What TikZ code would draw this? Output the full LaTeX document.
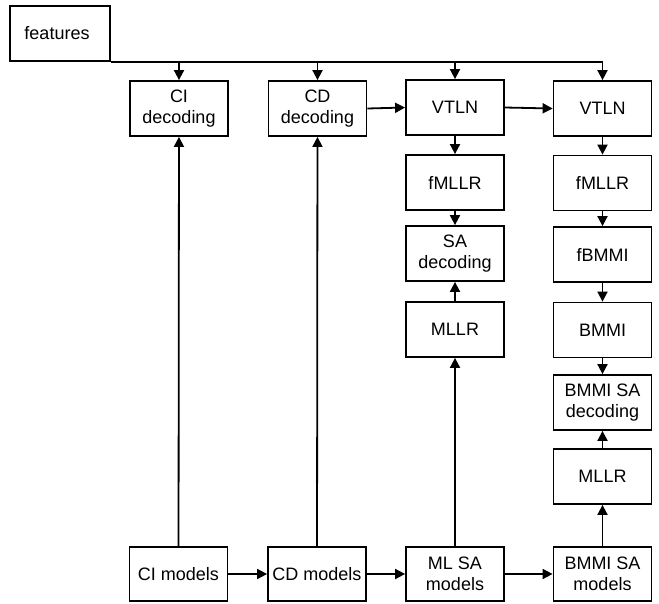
\documentclass[tikz,border=0pt]{standalone}
\usepackage{fontspec}
\setmainfont{Liberation Sans}
\usetikzlibrary{arrows.meta}
\begin{document}
\begin{tikzpicture}[x=1pt,y=-1pt,
  box/.style={draw,line width=1.8pt,minimum width=98pt,minimum height=55pt,inner sep=0pt,align=center,font=\fontsize{18}{21.5}\selectfont},
  conn/.style={line width=1.8pt},
  arr/.style={line width=1.8pt,-{Triangle[length=10pt,width=10pt]}}]
\useasboundingbox (0,0) rectangle (659,603);
\node[box,minimum width=100pt] (feat) at (60,33.5) {features\hspace{6pt}};
\node[box] (cidec) at (179,108.5) {CI\\decoding};
\node[box] (cddec) at (317.5,108.5) {CD\\decoding};
\node[box] (vtlna) at (455,107.5) {VTLN};
\node[box] (vtlnb) at (602.5,108.5) {VTLN};
\node[box] (fmllra) at (455,182.5) {fMLLR};
\node[box] (sadec) at (455,253.5) {SA\\decoding};
\node[box] (mllra) at (455,329.5) {MLLR};
\node[box] (fmllrb) at (602.5,183) {fMLLR};
\node[box] (fbmmi) at (602.5,254.5) {fBMMI};
\node[box] (bmmi) at (602.5,330) {BMMI};
\node[box] (bsadec) at (602.5,402.5) {BMMI SA\\decoding};
\node[box] (mllrb) at (602.5,476.5) {MLLR};
\node[box,minimum height=54pt] (cimod) at (178.5,574) {CI models};
\node[box,minimum height=54pt] (cdmod) at (317,574) {CD models};
\node[box,minimum height=54pt] (mlsa) at (455,574) {ML SA\\models};
\node[box,minimum height=54pt] (bmmisa) at (602.5,574) {BMMI SA\\models};
% feature bus
\coordinate (busend) at (feat.south east -| vtlnb.north);
\draw[conn] (feat.south east) -- (busend);
\draw[arr] (feat.south east -| cidec.north) -- (cidec.north);
\draw[arr] (feat.south east -| cddec.north) -- (cddec.north);
\draw[arr] (feat.south east -| vtlna.north) -- (vtlna.north);
\draw[arr] (busend) -- (vtlnb.north);
% horizontal top
\draw[arr] (cddec.east) -- (vtlna.west);
\draw[arr] (vtlna.east) -- (vtlnb.west);
% column 3
\draw[arr] (vtlna) -- (fmllra);
\draw[arr] (fmllra) -- (sadec);
\draw[arr] (mllra) -- (sadec);
\draw[arr] (mlsa) -- (mllra);
% column 4
\draw[arr] (vtlnb) -- (fmllrb);
\draw[arr] (fmllrb) -- (fbmmi);
\draw[arr] (fbmmi) -- (bmmi);
\draw[arr] (bmmi) -- (bsadec);
\draw[arr] (mllrb) -- (bsadec);
\draw[arr] (bmmisa) -- (mllrb);
% columns 1,2
\draw[arr] (cimod) -- (cidec);
\draw[arr] (cdmod) -- (cddec);
% bottom row
\draw[arr] (cimod) -- (cdmod);
\draw[arr] (cdmod) -- (mlsa);
\draw[arr] (mlsa) -- (bmmisa);
\end{tikzpicture}
\end{document}
